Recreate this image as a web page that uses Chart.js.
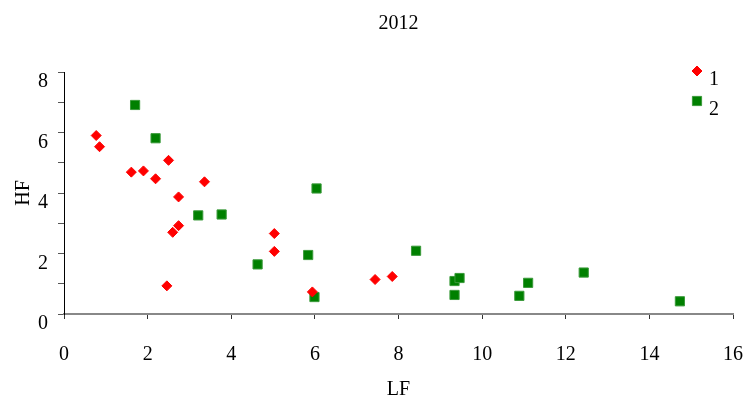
<!DOCTYPE html>
<html lang="en">
<head>
    <meta charset="UTF-8">
    <title>2012 LF vs HF</title>
    <style>
        html, body {
    margin: 0;
    padding: 0;
    background-color: #ffffff;
}

.chart {
    width: 747px;
    height: 398px;
}
    </style>
</head>
<body>
    <div class="chart">
        <canvas id="scatterChart"></canvas>
    </div>
    <script src="https://cdn.jsdelivr.net/npm/chart.js"></script>
    <script>
// Series 1 (red diamonds)
const lf1 = [0.77, 0.85, 1.61, 1.90, 2.19, 2.50, 2.74, 3.36, 2.74, 2.60, 2.46, 5.03, 5.03, 5.94, 7.44, 7.85];
const hf1 = [5.90, 5.53, 4.69, 4.73, 4.47, 5.08, 3.87, 4.37, 2.92, 2.70, 0.93, 2.66, 2.07, 0.73, 1.14, 1.24];

// Series 2 (green squares)
const lf2 = [1.70, 2.19, 3.21, 3.77, 6.04, 4.63, 5.84, 5.99, 8.42, 9.34, 9.46, 9.34, 11.10, 10.89, 12.43, 14.73];
const hf2 = [6.91, 5.81, 3.26, 3.29, 4.15, 1.64, 1.95, 0.56, 2.09, 1.09, 1.19, 0.63, 1.03, 0.60, 1.37, 0.42];

const seriesNames = ['1', '2'];
const xTicks = [0, 2, 4, 6, 8, 10, 12, 14, 16];
const yTicks = [0, 2, 4, 6, 8];

const FONT = "'Liberation Serif', 'Times New Roman', serif";

function toPoints(xs, ys) {
    return xs.map((x, i) => ({ x: x, y: ys[i] }));
}

// small legend drawn inside the top right corner of the plot
const cornerLegend = {
    id: 'cornerLegend',
    afterDraw(chart) {
        const ctx = chart.ctx;
        const area = chart.chartArea;
        ctx.save();
        chart.data.datasets.forEach((ds, i) => {
            const px = area.right - 36;
            const py = area.top - 1 + i * 30;
            ctx.fillStyle = ds.backgroundColor;
            ctx.strokeStyle = ds.borderColor;
            ctx.lineWidth = 1;
            Chart.helpers.drawPoint(ctx, {
                pointStyle: ds.pointStyle,
                radius: ds.pointRadius,
                borderWidth: 1
            }, px, py);
            ctx.fillStyle = '#000';
            ctx.font = '20px ' + FONT;
            ctx.textAlign = 'left';
            ctx.textBaseline = 'middle';
            ctx.fillText(seriesNames[i], area.right - 24, py + 9);
        });
        ctx.restore();
    }
};

document.addEventListener('DOMContentLoaded', function() {
    const ctx = document.getElementById('scatterChart').getContext('2d');

    new Chart(ctx, {
        type: 'scatter',
        data: {
            datasets: [
                {
                    label: seriesNames[0],
                    data: toPoints(lf1, hf1),
                    pointStyle: 'rectRot',
                    pointRadius: 5,
                    backgroundColor: '#ff0000',
                    borderColor: '#ff0000',
                    borderWidth: 1
                },
                {
                    label: seriesNames[1],
                    data: toPoints(lf2, hf2),
                    pointStyle: 'rect',
                    pointRadius: 6.5,
                    backgroundColor: '#008000',
                    borderColor: '#3a9a3a',
                    borderWidth: 1
                }
            ]
        },
        options: {
            responsive: true,
            maintainAspectRatio: false,
            animation: false,
            layout: {
                padding: { left: 0, right: 14, top: 0, bottom: 0 }
            },
            plugins: {
                legend: { display: false },
                tooltip: { enabled: false },
                title: {
                    display: true,
                    fullSize: false,
                    text: '2012',
                    color: '#000',
                    font: { family: FONT, size: 20, weight: 'normal', lineHeight: 1.2 },
                    padding: { top: 12, bottom: 36 }
                }
            },
            scales: {
                x: {
                    type: 'linear',
                    min: 0,
                    max: 16,
                    afterBuildTicks(scale) {
                        scale.ticks = xTicks.map(v => ({ value: v }));
                    },
                    afterFit(scale) {
                        scale.height = 84;
                        scale.paddingLeft = 0;
                        scale.paddingRight = 0;
                    },
                    ticks: {
                        color: '#000',
                        padding: 24,
                        maxRotation: 0,
                        font: { family: FONT, size: 20 }
                    },
                    grid: {
                        drawOnChartArea: false,
                        drawTicks: true,
                        tickLength: 5,
                        color: '#333'
                    },
                    border: { color: '#888', width: 2 },
                    title: {
                        display: true,
                        text: 'LF',
                        color: '#000',
                        font: { family: FONT, size: 20, lineHeight: 0.8 },
                        padding: { top: 0, bottom: 0 }
                    }
                },
                y: {
                    type: 'linear',
                    min: 0,
                    max: 8,
                    afterBuildTicks(scale) {
                        const all = [];
                        for (let v = 0; v <= 8; v++) all.push({ value: v });
                        scale.ticks = all;
                    },
                    afterFit(scale) {
                        scale.width = 64;
                    },
                    ticks: {
                        color: '#000',
                        padding: 10,
                        labelOffset: 10,
                        font: { family: FONT, size: 20 },
                        callback: function(value) {
                            return yTicks.includes(value) ? String(value) : '';
                        }
                    },
                    grid: {
                        drawOnChartArea: false,
                        drawTicks: true,
                        tickLength: 6,
                        color: '#555'
                    },
                    border: { color: '#000', width: 1 },
                    title: {
                        display: true,
                        text: 'HF',
                        color: '#000',
                        font: { family: FONT, size: 20, lineHeight: 1 },
                        padding: { top: 14, bottom: 0 }
                    }
                }
            }
        },
        plugins: [cornerLegend]
    });
});
    </script>
</body>
</html>
